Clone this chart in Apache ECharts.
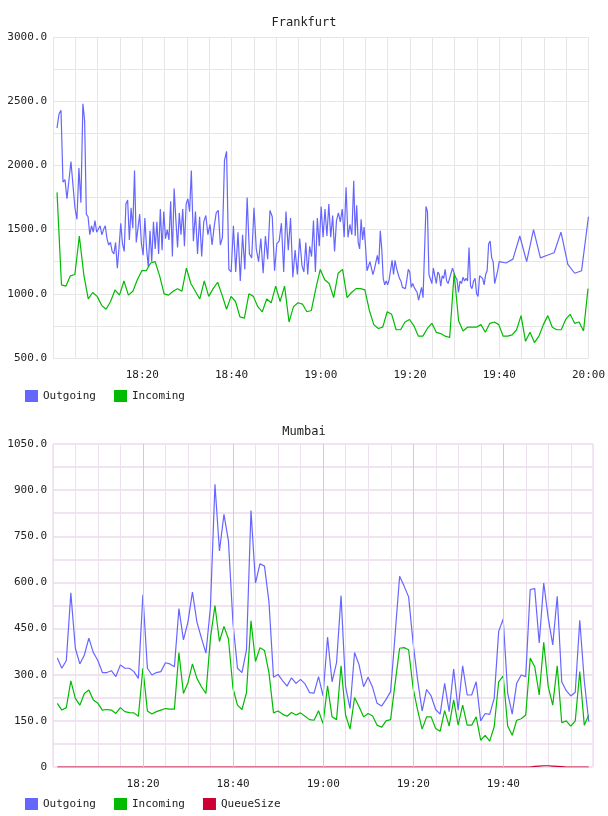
<!DOCTYPE html>
<html>
<head>
<meta charset="utf-8">
<script src="https://cdn.jsdelivr.net/npm/echarts@6/dist/echarts.min.js"></script>
<style>
  body { margin: 0; background: #fff; }
  #chart { width: 608px; height: 816px; }
</style>
</head>
<body>
<div id="chart"></div>
<script>
// minutes after 18:00
const frOutgoing = [2290,2400,2430,1870,1890,1740,1730,2030,1850,1670,1580,1980,1710,2480,2350,1620,1600,1460,1530,1480,
  1570,1480,1470,1530,1460,1500,1530,1430,1380,1400,1330,1310,1400,1200,1360,1550,1390,1330,1700,1730,
  1420,1670,1510,1960,1400,1400,1620,1390,1300,1590,1350,1210,1490,1250,1560,1350,1560,1310,1660,1340,
  1640,1430,1500,1420,1720,1290,1820,1580,1360,1630,1460,1660,1370,1700,1740,1640,1960,1410,1640,1310,
  1600,1290,1560,1610,1460,1540,1380,1520,1630,1650,1380,1440,2040,2110,1190,1170,1530,1170,1480,1100,
  1460,1190,1750,1310,1280,1670,1350,1250,1430,1160,1450,1270,1650,1600,1180,1390,1410,1550,1170,1640,
  1340,1590,1130,1340,1150,1430,1220,1170,1400,1150,1370,1290,1570,1170,1590,1370,1680,1440,1660,1450,
  1700,1440,1610,1330,1570,1630,1560,1660,1440,1830,1440,1540,1460,1880,1450,1690,1400,1350,1580,1420,
  1520,1370,1180,1170,1250,1250,1150,1190,1200,1300,1230,1490,1350,1120,1070,1100,1070,1110,1110,1260,
  1150,1260,1200,1160,1120,1100,1050,1060,1040,1110,1190,1170,1050,1080,1050,1060,1010,950,960,1050,
  970,960,1680,1640,1150,1160,1080,1200,1140,1080,1170,1150,1060,1140,1120,1190,1100,1080,1120,1160,
  1200,1190,1130,1110,1010,1100,1080,1130,1100,1120,1100,1360,1060,1040,1100,1120,1000,980,1140,1130,
  1120,1070,1150,1180,1390,1410,1280,1250,1080,1070,1180,1250,1240,1270,1450,1250,1500,1280,1300,1320,
  1480,1230,1160,1180,1600];
// sample index -> minute
const frOutAnchors = [[0, 0.9], [13, 6.7], [76, 31], [93, 38.9], [126, 55.8], [153, 67.4], [222, 90.2], [251, 100], [frOutgoing.length - 1, 120]];
const frIncoming = [1790,1070,1060,1140,1150,1450,1150,960,1010,980,910,880,940,1030,990,1100,990,1020,1110,1180,
  1180,1240,1250,1140,1000,990,1020,1040,1020,1200,1080,1020,960,1100,980,1040,1090,990,880,980,
  940,820,810,1000,980,900,860,960,930,1060,940,1060,780,900,930,920,860,870,1040,1190,
  1110,1080,970,1160,1190,970,1010,1040,1040,1030,870,760,730,740,860,840,720,720,780,800,
  750,670,670,730,770,700,690,670,660,1160,790,710,740,740,740,760,700,770,780,760,
  670,670,680,720,830,630,700,620,670,760,830,740,720,720,800,840,770,780,710,1040];
const frInStart = 0.9;

const mbStart = 0.96;
const mbOutgoing = [354,321,346,566,386,335,364,419,372,346,307,307,313,294,332,321,321,310,288,560,
  321,299,307,310,339,335,326,515,413,471,569,471,419,370,520,919,702,821,734,468,
  321,307,381,834,598,661,653,535,292,301,281,263,290,272,285,270,242,240,294,231,
  422,277,339,557,261,190,372,332,261,292,259,207,198,220,245,430,620,588,553,403,
  283,182,252,231,187,172,272,180,318,185,329,234,234,277,150,174,171,223,441,481,
  240,172,272,299,294,577,580,403,598,484,397,555,277,248,231,243,477,281,147];
const mbIncoming = [207,185,193,280,223,201,239,250,218,207,185,187,185,174,193,180,177,176,165,321,
  182,172,180,185,190,188,188,372,239,274,335,288,261,239,419,525,408,457,416,256,
  201,187,242,475,343,388,379,305,176,182,172,165,177,169,176,165,154,152,183,141,
  264,163,154,329,169,123,226,196,163,174,166,136,129,150,154,272,386,388,381,256,
  185,123,163,163,125,116,183,133,218,136,201,136,136,163,87,103,84,131,277,296,
  133,103,152,157,169,354,326,234,405,261,201,329,144,150,133,150,310,136,169];
const mbQueue = [0,0,0,0,0,0,0,0,0,0,0,0,0,0,0,0,0,0,0,0,0,0,0,0,0,0,0,0,0,0,0,0,0,0,0,0,0,0,0,0,
  0,0,0,0,0,0,0,0,0,0,0,0,0,0,0,0,0,0,0,0,0,0,0,0,0,0,0,0,0,0,0,0,0,0,0,0,0,0,0,0,
  0,0,0,0,0,0,0,0,0,0,0,0,0,0,0,0,0,0,0,0,0,0,0,0,0,0,2,3,4,4,3,2,1,0,0,0,0,0,0];

const pair = (vals, start, step) => vals.map((v, i) => [start + i * step, v]);
const pairAnchored = (vals, anchors) => vals.map((v, i) => {
  let k = 0;
  while (k < anchors.length - 2 && i > anchors[k + 1][0]) k++;
  const [i0, t0] = anchors[k], [i1, t1] = anchors[k + 1];
  return [t0 + (i - i0) * (t1 - t0) / (i1 - i0), v];
});

const font = "'DejaVu Sans Mono', monospace";
const timeLabel = v => {
  if (v <= 0 || v % 20 !== 0) return '';
  const h = 18 + Math.floor(v / 60), m = v % 60;
  return h + ':' + (m < 10 ? '0' + m : m);
};

const myChart = echarts.init(document.getElementById('chart'));
const option = {
  animation: false,
  title: [
    { text: 'Frankfurt', left: 'center', top: 12, textStyle: { fontFamily: font, fontSize: 12, fontWeight: 'normal', color: '#222' } },
    { text: 'Mumbai', left: 'center', top: 421, textStyle: { fontFamily: font, fontSize: 12, fontWeight: 'normal', color: '#222' } }
  ],
  legend: [
    { data: ['Outgoing', 'Incoming'], left: 20, top: 385, itemWidth: 13, itemHeight: 12, itemGap: 18, icon: 'rect',
      textStyle: { fontFamily: font, fontSize: 11, color: '#222' } },
    { data: [{ name: 'Outgoing2' }, { name: 'Incoming2' }, { name: 'QueueSize' }], left: 20, top: 793, itemWidth: 13, itemHeight: 12, itemGap: 18, icon: 'rect',
      formatter: n => n.replace('2', ''),
      textStyle: { fontFamily: font, fontSize: 11, color: '#222' } }
  ],
  grid: [
    { left: 53, top: 37, width: 540, height: 321 },
    { left: 53, top: 444, width: 540, height: 323, show: true, borderColor: '#e8d0e8', borderWidth: 1 }
  ],
  xAxis: [0, 1].map(g => ({
    type: 'value', gridIndex: g, min: 0, max: g === 0 ? 120 : 119.9, interval: 5,
    axisLine: { show: false }, axisTick: { show: false },
    axisLabel: { formatter: timeLabel, showMaxLabel: true, fontFamily: font, fontSize: 11, color: '#222', margin: 12 },
    splitLine: { lineStyle: { color: g === 0 ? '#e6e6e6' : '#eee0ee', width: 1 } }
  })),
  yAxis: [
    { type: 'value', gridIndex: 0, min: 500, max: 3000, interval: 250,
      axisLine: { show: false }, axisTick: { show: false },
      axisLabel: { formatter: v => v % 500 === 0 ? v.toFixed(1) : '', fontFamily: font, fontSize: 11, color: '#222', margin: 6 },
      splitLine: { lineStyle: { color: '#e6e6e6' } } },
    { type: 'value', gridIndex: 1, min: 0, max: 1050, interval: 75,
      axisLine: { show: false }, axisTick: { show: false },
      axisLabel: { formatter: v => v === 0 ? '0' : (v % 150 === 0 ? v.toFixed(1) : ''), fontFamily: font, fontSize: 11, color: '#222', margin: 6 },
      splitLine: { lineStyle: { color: '#f0e4f0', width: 2 } } }
  ],
  series: [
    { name: 'Outgoing', type: 'line', xAxisIndex: 0, yAxisIndex: 0, showSymbol: false, color: '#6666ff',
      lineStyle: { width: 1.2 }, data: pairAnchored(frOutgoing, frOutAnchors) },
    { name: 'Incoming', type: 'line', xAxisIndex: 0, yAxisIndex: 0, showSymbol: false, color: '#00bb00',
      lineStyle: { width: 1.2 }, data: pair(frIncoming, frInStart, 1) },
    { name: 'Outgoing2', type: 'line', xAxisIndex: 1, yAxisIndex: 1, showSymbol: false, color: '#6666ff',
      lineStyle: { width: 1.2 }, data: pair(mbOutgoing, mbStart, 1),
      markLine: { silent: true, symbol: 'none', label: { show: false },
        lineStyle: { color: '#dcc4dc', type: 'solid', width: 1 },
        data: [20, 40, 60, 80, 100].map(x => ({ xAxis: x })) } },
    { name: 'Incoming2', type: 'line', xAxisIndex: 1, yAxisIndex: 1, showSymbol: false, color: '#00bb00',
      lineStyle: { width: 1.2 }, data: pair(mbIncoming, mbStart, 1) },
    { name: 'QueueSize', type: 'line', xAxisIndex: 1, yAxisIndex: 1, showSymbol: false, color: '#cc0033',
      lineStyle: { width: 1.2 }, data: pair(mbQueue, mbStart, 1) }
  ]
};
myChart.setOption(option);
</script>
</body>
</html>
